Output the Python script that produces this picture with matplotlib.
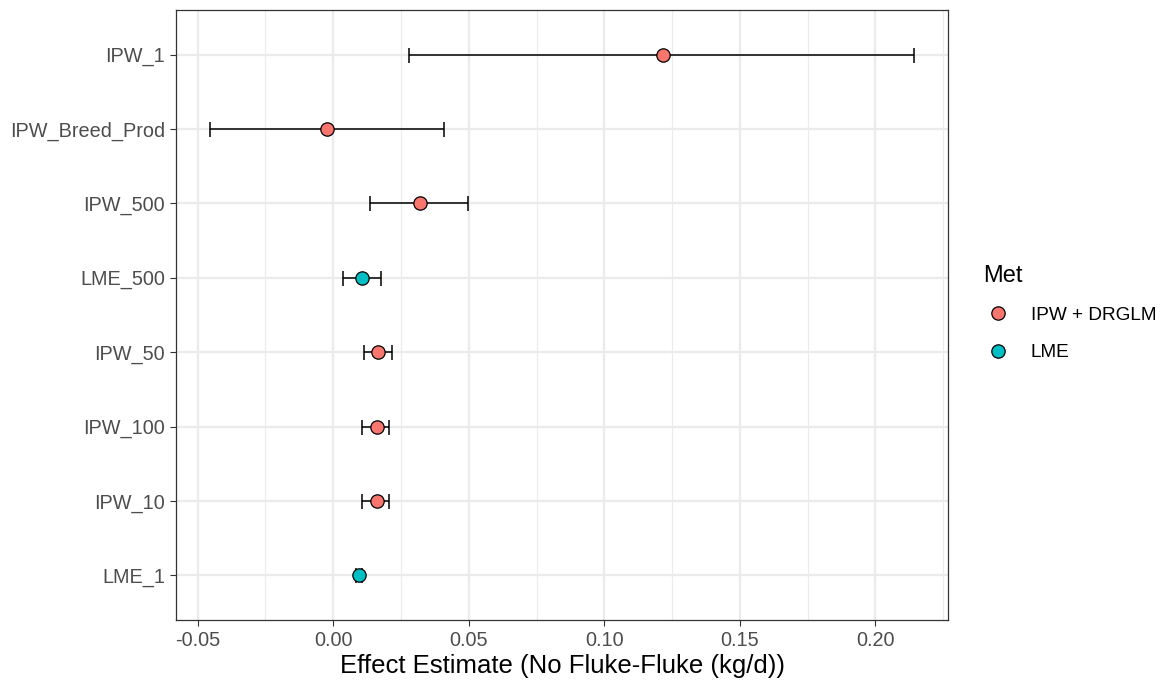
import matplotlib
matplotlib.use("Agg")
import matplotlib.pyplot as plt
from matplotlib.lines import Line2D
from matplotlib.ticker import MultipleLocator

plt.rcParams['font.family'] = ['Liberation Sans', 'DejaVu Sans']

# Data (top to bottom)
labels = ["IPW_1", "IPW_Breed_Prod", "IPW_500", "LME_500", "IPW_50", "IPW_100", "IPW_10", "LME_1"]
estimate = [0.1217, -0.0023, 0.0319, 0.0107, 0.0166, 0.0160, 0.0160, 0.0095]
lower = [0.0278, -0.0454, 0.0137, 0.0036, 0.0114, 0.0106, 0.0106, 0.0084]
upper = [0.2144, 0.0408, 0.0496, 0.0176, 0.0218, 0.0207, 0.0207, 0.0106]
method = ["IPW + DRGLM", "IPW + DRGLM", "IPW + DRGLM", "LME", "IPW + DRGLM", "IPW + DRGLM", "IPW + DRGLM", "LME"]
methods = ["IPW + DRGLM", "LME"]
colors = {"IPW + DRGLM": "#F8766D", "LME": "#00BFC4"}

fig = plt.figure(figsize=(11.66, 6.84), dpi=100)
ax = fig.add_axes([176/1166, 1 - 620/684, (948-176)/1166, (620-10)/684])

n = len(labels)
ypos = [n - i for i in range(n)]

for y, e, lo, hi, m in zip(ypos, estimate, lower, upper, method):
    ax.errorbar([e], [y], xerr=[[e - lo], [hi - e]], fmt='none', ecolor='black',
                elinewidth=1.1, capsize=5.4, capthick=1.1, zorder=3)
    ax.plot([e], [y], 'o', markersize=9.6, markerfacecolor=colors[m],
            markeredgecolor='black', markeredgewidth=0.9, zorder=4)

ax.set_xlim(-0.058, 0.2268)
ax.set_ylim(0.4, n + 0.6)
ax.set_yticks(ypos)
ax.set_yticklabels(labels)
ax.xaxis.set_major_locator(MultipleLocator(0.05))
ax.xaxis.set_minor_locator(MultipleLocator(0.025))
ax.set_xticks([-0.05, 0.0, 0.05, 0.10, 0.15, 0.20])
ax.set_xticklabels(["-0.05", "0.00", "0.05", "0.10", "0.15", "0.20"])

ax.set_axisbelow(True)
ax.grid(which='major', color='#EBEBEB', linewidth=1.6)
ax.grid(which='minor', axis='x', color='#EBEBEB', linewidth=0.8)
ax.tick_params(axis='both', which='major', colors='#333333', labelcolor='#4D4D4D',
               labelsize=14.3, length=4, width=0.8, pad=4)
ax.tick_params(axis='x', which='minor', length=0)
for s in ax.spines.values():
    s.set_color('#333333')
    s.set_linewidth(0.9)

ax.set_xlabel("Effect Estimate (No Fluke-Fluke (kg/d))", fontsize=18.5, color='black', labelpad=3)

handles = [Line2D([0], [0], marker='o', linestyle='none', markersize=9.6,
                  markerfacecolor=colors[m], markeredgecolor='black', markeredgewidth=0.9)
           for m in methods]
leg = fig.legend(handles, methods, title="Met", loc='upper left',
                 bbox_to_anchor=(966/1166, 1 - 248/684), frameon=False,
                 fontsize=13.7, title_fontsize=17, handletextpad=0.9,
                 labelspacing=1.05, handlelength=1.6)
leg._legend_box.align = "left"
leg._legend_box.sep = 14

fig.savefig("out.png", dpi=100)
